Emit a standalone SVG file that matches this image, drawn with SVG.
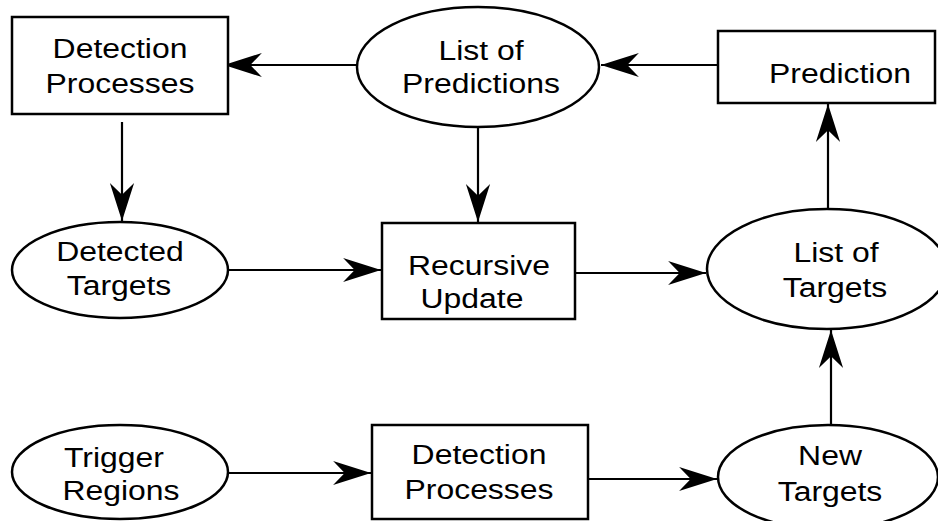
<svg xmlns="http://www.w3.org/2000/svg" width="938" height="521" viewBox="0 0 938 521">
  <style>
    .box { fill: #fff; stroke: #000; stroke-width: 2.5; }
    .oval { fill: #fff; stroke: #000; stroke-width: 2.5; }
    .lbl { font-family: "Liberation Sans", Arial, sans-serif; font-size: 28px; fill: #000; text-anchor: middle; }
    .edge { stroke: #000; stroke-width: 2.2; fill: none; marker-end: url(#barb); }
  </style>
  <defs>
    <marker id="barb" markerUnits="userSpaceOnUse" markerWidth="40" markerHeight="26" viewBox="-37 -12 38 24" refX="0" refY="0" orient="auto">
      <path d="M0,0 L-36,-11.5 L-25,0 L-36,11.5 Z" fill="#000"/>
    </marker>
  </defs>

  <!-- connectors -->
  <g id="connectors">
    <line class="edge" x1="366" y1="65" x2="224" y2="65"/>
    <line class="edge" x1="718" y1="65" x2="601" y2="65"/>
    <line class="edge" x1="122" y1="122" x2="122" y2="221"/>
    <line class="edge" x1="478" y1="127" x2="478" y2="222"/>
    <line class="edge" x1="229" y1="270" x2="381" y2="270"/>
    <line class="edge" x1="575" y1="273" x2="706" y2="273"/>
    <line class="edge" x1="828" y1="210" x2="828" y2="104"/>
    <line class="edge" x1="229" y1="473" x2="371" y2="473"/>
    <line class="edge" x1="589" y1="479" x2="717" y2="479"/>
    <line class="edge" x1="831" y1="425" x2="831" y2="330"/>
  </g>

  <!-- nodes -->
  <g id="detection-top">
    <rect class="box" x="12" y="17" width="216" height="97"/>
    <text class="lbl" transform="matrix(1.14 0 0 1 120 0)" y="58">Detection</text>
    <text class="lbl" transform="matrix(1.14 0 0 1 120 0)" y="93">Processes</text>
  </g>

  <g id="list-of-predictions">
    <ellipse class="oval" cx="478" cy="67" rx="121" ry="60"/>
    <text class="lbl" transform="matrix(1.14 0 0 1 481 0)" y="60">List of</text>
    <text class="lbl" transform="matrix(1.14 0 0 1 481 0)" y="93">Predictions</text>
  </g>

  <g id="prediction">
    <rect class="box" x="718" y="31" width="217" height="72"/>
    <text class="lbl" transform="matrix(1.14 0 0 1 840 0)" y="83">Prediction</text>
  </g>

  <g id="detected-targets">
    <ellipse class="oval" cx="120" cy="270" rx="108" ry="48"/>
    <text class="lbl" transform="matrix(1.14 0 0 1 120 0)" y="261">Detected</text>
    <text class="lbl" transform="matrix(1.14 0 0 1 119 0)" y="295">Targets</text>
  </g>

  <g id="recursive-update">
    <rect class="box" x="382" y="223" width="193" height="96"/>
    <text class="lbl" transform="matrix(1.14 0 0 1 479 0)" y="275">Recursive</text>
    <text class="lbl" transform="matrix(1.14 0 0 1 472 0)" y="308">Update</text>
  </g>

  <g id="list-of-targets">
    <ellipse class="oval" cx="827" cy="269" rx="120" ry="60"/>
    <text class="lbl" transform="matrix(1.14 0 0 1 836 0)" y="262">List of</text>
    <text class="lbl" transform="matrix(1.14 0 0 1 835 0)" y="297">Targets</text>
  </g>

  <g id="trigger-regions">
    <ellipse class="oval" cx="120" cy="472" rx="108" ry="47"/>
    <text class="lbl" transform="matrix(1.14 0 0 1 114 0)" y="467">Trigger</text>
    <text class="lbl" transform="matrix(1.14 0 0 1 121 0)" y="500">Regions</text>
  </g>

  <g id="detection-bottom">
    <rect class="box" x="372" y="425" width="216" height="94"/>
    <text class="lbl" transform="matrix(1.14 0 0 1 479 0)" y="464">Detection</text>
    <text class="lbl" transform="matrix(1.14 0 0 1 479 0)" y="499">Processes</text>
  </g>

  <g id="new-targets">
    <ellipse class="oval" cx="828" cy="477" rx="110" ry="52"/>
    <text class="lbl" transform="matrix(1.14 0 0 1 830 0)" y="465">New</text>
    <text class="lbl" transform="matrix(1.14 0 0 1 830 0)" y="501">Targets</text>
  </g>
</svg>
